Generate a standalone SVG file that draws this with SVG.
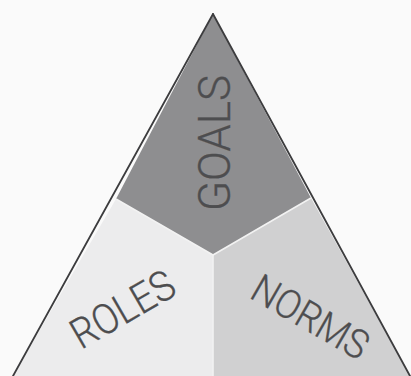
<svg xmlns="http://www.w3.org/2000/svg" width="411" height="376" viewBox="0 0 411 376">
<style>
.lbl{font-family:Roboto,"Liberation Sans",sans-serif;font-weight:300;fill:#4d4d4f;stroke:#4d4d4f;stroke-width:0.3}
.sep{stroke:#f2f2f2;stroke-width:1.6;fill:none}
.edge{stroke:#3c3c3e;stroke-width:1.8;fill:none;stroke-linecap:round}
</style>
<rect width="411" height="376" fill="#fafafa"/>
<g id="goals">
<polygon points="213,14 116,199 213,255 311,198" fill="#8e8e90"/>
<text class="lbl" transform="translate(230,211) rotate(-90)" font-size="44" textLength="136" lengthAdjust="spacingAndGlyphs">GOALS</text>
</g>
<g id="roles">
<polygon points="116,199 213,255 213,376 13,376" fill="#ececed"/>
<text class="lbl" transform="translate(81,350) rotate(-30)" font-size="42" textLength="113" lengthAdjust="spacingAndGlyphs">ROLES</text>
</g>
<g id="norms">
<polygon points="213,255 311,198 410,376 213,376" fill="#d0d0d1"/>
<text class="lbl" transform="translate(248,297) rotate(30)" font-size="40" textLength="128" lengthAdjust="spacingAndGlyphs">NORMS</text>
</g>
<g id="connectors">
<polyline class="sep" points="116,199 213,255 311,198"/>
<line class="sep" x1="213" y1="255" x2="213" y2="376"/>
<line class="edge" x1="213" y1="14" x2="13" y2="376"/>
<line class="edge" x1="213" y1="14" x2="410" y2="376"/>
</g>
</svg>
